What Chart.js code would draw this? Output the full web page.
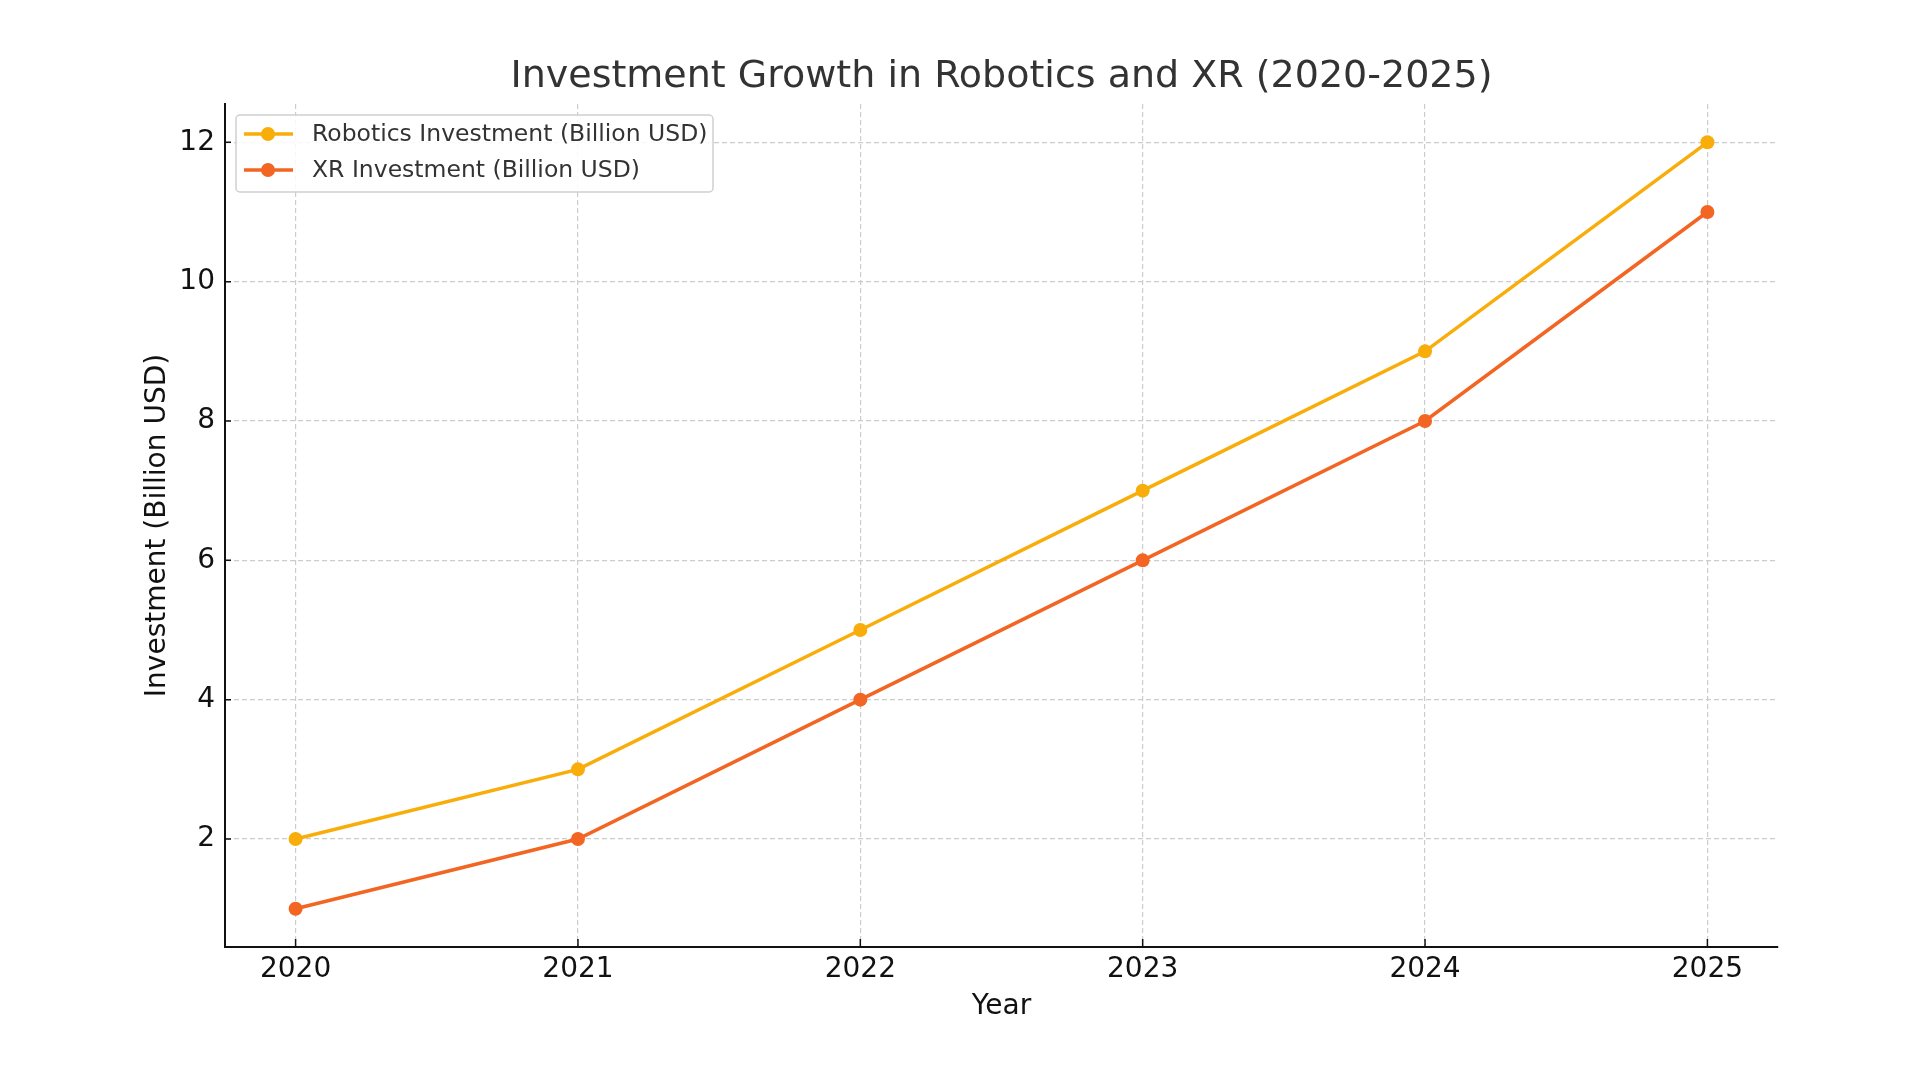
<!doctype html>
<html lang="en">
<head>
  <meta charset="utf-8" />
  <title>Investment Growth in Robotics and XR (2020-2025)</title>
  <script src="https://cdn.jsdelivr.net/npm/chart.js"></script>
  <style>
    html, body { margin: 0; padding: 0; background: #fff; }
    canvas { display: block; }
  </style>
</head>
<body>
  <canvas id="chart" width="1920" height="1080"></canvas>
  <script>
    const years = [2020, 2021, 2022, 2023, 2024, 2025];
    const roboticsInvestment = [2, 3, 5, 7, 9, 12];
    const xrInvestment = [1, 2, 4, 6, 8, 11];
    const yTicks = [2, 4, 6, 8, 10, 12];
    const seriesLabels = ['Robotics Investment (Billion USD)', 'XR Investment (Billion USD)'];
    const seriesColors = ['#f8ad0a', '#f26522'];
    const chartTitle = 'Investment Growth in Robotics and XR (2020-2025)';

    const font = 'DejaVu Sans';

    // title centred over the plot area (matplotlib style), not over the canvas
    const plotTitle = {
      id: 'plotTitle',
      afterDraw(chart) {
        const { ctx, chartArea } = chart;
        ctx.save();
        ctx.font = '38px "' + font + '"';
        ctx.fillStyle = '#333';
        ctx.textAlign = 'center';
        ctx.textBaseline = 'middle';
        ctx.fillText(chartTitle, (chartArea.left + chartArea.right) / 2, 77);
        ctx.restore();
      },
    };

    // matplotlib-style legend inside the upper left corner of the plot
    const innerLegend = {
      id: 'innerLegend',
      afterDatasetsDraw(chart) {
        const { ctx, chartArea } = chart;
        const x0 = chartArea.left + 11;
        const y0 = chartArea.top + 11;
        const w = 477;
        const h = 77;
        ctx.save();
        ctx.beginPath();
        ctx.roundRect(x0, y0, w, h, 4);
        ctx.fillStyle = 'rgba(255,255,255,0.85)';
        ctx.fill();
        ctx.strokeStyle = '#d0d0d0';
        ctx.lineWidth = 1.5;
        ctx.stroke();
        ctx.font = '23.5px "' + font + '"';
        ctx.textBaseline = 'middle';
        chart.data.datasets.forEach((ds, i) => {
          const cy = y0 + 19 + i * 36;
          ctx.strokeStyle = ds.borderColor;
          ctx.lineWidth = 3.5;
          ctx.beginPath();
          ctx.moveTo(x0 + 8, cy);
          ctx.lineTo(x0 + 57, cy);
          ctx.stroke();
          ctx.fillStyle = ds.backgroundColor;
          ctx.beginPath();
          ctx.arc(x0 + 32, cy, 7, 0, Math.PI * 2);
          ctx.fill();
          ctx.fillStyle = '#333';
          ctx.fillText(ds.label, x0 + 76, cy + 1);
        });
        ctx.restore();
      },
    };

    // short inward tick marks on the two spines
    const innerTicks = {
      id: 'innerTicks',
      afterDraw(chart) {
        const { ctx, chartArea, scales } = chart;
        ctx.save();
        ctx.strokeStyle = '#111';
        ctx.lineWidth = 1.5;
        ctx.beginPath();
        scales.x.ticks.forEach((t) => {
          const px = scales.x.getPixelForValue(t.value);
          ctx.moveTo(px, chartArea.bottom);
          ctx.lineTo(px, chartArea.bottom - 8);
        });
        scales.y.ticks.forEach((t) => {
          const py = scales.y.getPixelForValue(t.value);
          ctx.moveTo(chartArea.left, py);
          ctx.lineTo(chartArea.left + 6, py);
        });
        ctx.stroke();
        ctx.restore();
      },
    };

    const toPoints = (values) => values.map((v, i) => ({ x: years[i], y: v }));

    const lineStyle = {
      borderWidth: 3.5,
      pointRadius: 7,
      pointHoverRadius: 7,
      pointBorderWidth: 0,
      tension: 0,
    };

    new Chart(document.getElementById('chart'), {
      type: 'line',
      plugins: [innerLegend, innerTicks, plotTitle],
      data: {
        datasets: [
          {
            label: seriesLabels[0],
            data: toPoints(roboticsInvestment),
            borderColor: seriesColors[0],
            backgroundColor: seriesColors[0],
            ...lineStyle,
          },
          {
            label: seriesLabels[1],
            data: toPoints(xrInvestment),
            borderColor: seriesColors[1],
            backgroundColor: seriesColors[1],
            ...lineStyle,
          },
        ],
      },
      options: {
        responsive: false,
        animation: false,
        devicePixelRatio: 1,
        layout: { padding: { left: 0, right: 142, top: 104, bottom: 0 } },
        plugins: {
          legend: { display: false },
          tooltip: { enabled: false },
          title: { display: false },
        },
        scales: {
          x: {
            type: 'linear',
            min: 2019.75,
            max: 2025.25,
            afterBuildTicks: (scale) => { scale.ticks = years.map((v) => ({ value: v })); },
            afterFit: (scale) => { scale.height = 133; },
            ticks: {
              color: '#111',
              font: { family: font, size: 28 },
              padding: 6,
              maxRotation: 0,
              callback: (v) => String(v),
            },
            grid: {
              color: '#cccccc',
              lineWidth: 1.2,
              drawTicks: false,
            },
            border: { display: true, color: '#111', width: 2, dash: [5, 3] },
            title: {
              display: true,
              text: 'Year',
              color: '#111',
              font: { family: font, size: 28 },
              padding: { bottom: 56 },
            },
          },
          y: {
            min: 0.45,
            max: 12.55,
            afterBuildTicks: (scale) => { scale.ticks = yTicks.map((v) => ({ value: v })); },
            afterFit: (scale) => { scale.width = 225; },
            ticks: {
              color: '#111',
              font: { family: font, size: 28 },
              padding: 10,
            },
            grid: {
              color: '#cccccc',
              lineWidth: 1.2,
              drawTicks: false,
            },
            border: { display: true, color: '#111', width: 2, dash: [5, 3] },
            title: {
              display: true,
              text: 'Investment (Billion USD)',
              color: '#111',
              font: { family: font, size: 28 },
              padding: { top: 141 },
            },
          },
        },
      },
    });
  </script>
</body>
</html>
